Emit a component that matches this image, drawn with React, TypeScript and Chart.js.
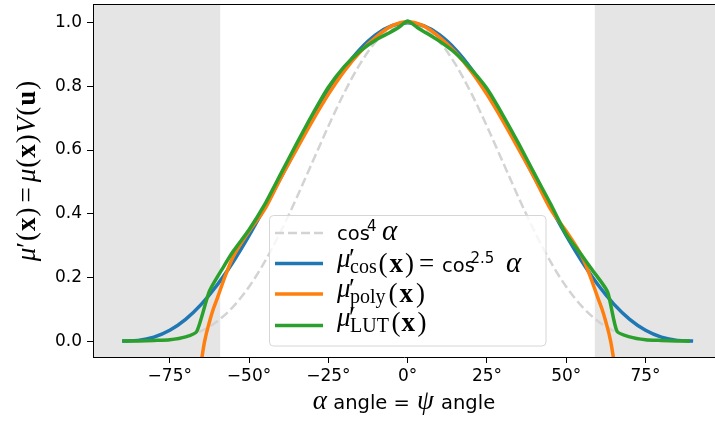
import React, { useEffect, useRef } from "react";
import { Chart, registerables } from "chart.js";

Chart.register(...registerables);

// ---------- data ----------
const xTickValues = [-75, -50, -25, 0, 25, 50, 75];
const yTickValues = [0, 0.2, 0.4, 0.6, 0.8, 1.0];
const xRange = [-99.2, 96.9];
const yRange = [-0.05, 1.0556];
const shadedSpans = [
  [-99.2, -59.1],
  [59.0, 96.9],
];

const fullAngles = [
  -90, -85, -80, -75, -70, -65, -60, -55, -50, -45, -40, -35, -30, -25, -20, -15, -10, -5, 0,
  5, 10, 15, 20, 25, 30, 35, 40, 45, 50, 55, 60, 65, 70, 75, 80, 85, 90,
];
const cos4Values = [
  0, 0.0001, 0.0009, 0.0045, 0.0137, 0.0319, 0.0625, 0.1082, 0.1707, 0.25, 0.3443, 0.4502,
  0.5625, 0.6747, 0.7797, 0.8705, 0.9406, 0.9811, 1.0, 0.9811, 0.9406, 0.8705, 0.7797, 0.6747,
  0.5625, 0.4502, 0.3443, 0.25, 0.1707, 0.1082, 0.0625, 0.0319, 0.0137, 0.0045, 0.0009, 0.0001, 0,
];
const cosPowValues = [
  0, 0.0022, 0.0126, 0.0341, 0.0684, 0.1161, 0.1768, 0.2492, 0.3313, 0.4204, 0.5135, 0.6072,
  0.698, 0.782, 0.856, 0.917, 0.9624, 0.9905, 1.0, 0.9905, 0.9624, 0.917, 0.856, 0.782, 0.698,
  0.6072, 0.5135, 0.4204, 0.3313, 0.2492, 0.1768, 0.1161, 0.0684, 0.0341, 0.0126, 0.0022, 0,
];
const polyAngles = [
  -65, -64, -62.5, -61.3, -60, -57.5, -55, -50, -45, -40, -35, -30, -25, -20, -15, -10, -5, 0, 5,
  10, 15, 20, 25, 30, 35, 40, 45, 50, 55, 57.5, 60, 61.3, 62.5, 64, 65,
];
const polyValues = [
  -0.06, 0.0, 0.06, 0.1, 0.135, 0.205, 0.265, 0.345, 0.415, 0.512, 0.603, 0.692, 0.775, 0.848,
  0.908, 0.955, 0.99, 1.003, 0.99, 0.955, 0.908, 0.848, 0.775, 0.692, 0.603, 0.512, 0.415, 0.345,
  0.265, 0.205, 0.135, 0.1, 0.06, 0.0, -0.06,
];
const lutAngles = [
  -90, -85, -80, -75, -70, -66.5, -62.5, -58, -55, -50, -45, -40, -35, -30, -25, -20, -15, -10, -6,
  -3, 0, 3, 6, 10, 15, 20, 25, 30, 35, 40, 45, 50, 55, 58, 63, 66, 70, 75, 80, 85, 89,
];
const lutValues = [
  0, 0.0005, 0.002, 0.004, 0.013, 0.03, 0.157, 0.234, 0.282, 0.35, 0.43, 0.525, 0.62, 0.712,
  0.797, 0.862, 0.911, 0.946, 0.967, 0.984, 1.005, 0.985, 0.967, 0.942, 0.905, 0.854, 0.793,
  0.71, 0.62, 0.525, 0.432, 0.335, 0.268, 0.226, 0.155, 0.031, 0.013, 0.004, 0.002, 0.0005, 0,
];

const seriesColors = ["#d3d3d3", "#1f77b4", "#ff7f0e", "#2ca02c"];

// ---------- text helpers ----------
const SANS = "'DejaVu Sans', sans-serif";
const SERIF = "'Liberation Serif', 'DejaVu Serif', serif";
const M = 27; // math font size
const T = 19.5; // text font size
const SUP = 15;
const SUB = 20;

type Run = { t: string; f: string; dy?: number; dx?: number; adv?: boolean; at?: number };

const mi = (t: string, dx = 0, dy = 0, size = M): Run => ({ t, f: `italic ${size}px ${SERIF}`, dx, dy });
const mr = (t: string, dx = 0): Run => ({ t, f: `${M}px ${SERIF}`, dx });
const mb = (t: string, dx = 0): Run => ({ t, f: `bold ${M}px ${SERIF}`, dx });
const tx = (t: string, dx = 0): Run => ({ t, f: `${T}px ${SANS}`, dx });
const sup = (t: string): Run => ({ t, f: `${SUP}px ${SANS}`, dy: -9 });
const sub = (t: string): Run => ({ t, f: `${SUB}px ${SERIF}`, dy: 1 });
const prime = (adv = true, dx = 0, dy = 0): Run => ({ t: "′", f: `${M}px ${SERIF}`, adv, dx, dy });
const at = (r: Run, x: number): Run => ({ ...r, at: x });

function runsWidth(ctx: CanvasRenderingContext2D, runs: Run[]) {
  let w = 0;
  for (const r of runs) {
    ctx.font = r.f;
    if (r.adv !== false) w += ctx.measureText(r.t).width + (r.dx || 0);
  }
  return w;
}
function drawRuns(ctx: CanvasRenderingContext2D, runs: Run[], x: number, y: number) {
  let cx = x;
  for (const r of runs) {
    ctx.font = r.f;
    if (r.at !== undefined) cx = r.at;
    ctx.fillText(r.t, cx + (r.dx || 0), y + (r.dy || 0));
    if (r.adv !== false) cx += ctx.measureText(r.t).width + (r.dx || 0);
  }
}

// legend rows: glyph runs anchored at pixel columns measured on the reference legend
const muPrime = (subText: string): Run[] => [
  at(mi("μ", 0, -5), 337),
  prime(false, -1.5, -5),
  at(sub(subText), 350),
];

const legendRows: Run[][] = [
  [at(tx("cos"), 337), at(sup("4"), 367), at(mi("α", 0, 0, 29), 382)],
  [
    ...muPrime("cos"), at(mr("("), 378.5), at(mb("x"), 389.5), at(mr(")"), 405), at(mr("="), 419),
    at(tx("cos"), 442), at(sup("2.5"), 470.5), at(mi("α", 0, 0, 29), 506),
  ],
  [...muPrime("poly"), at(mr("("), 388.5), at(mb("x"), 399.5), at(mr(")"), 416)],
  [...muPrime("LUT"), at(mr("("), 391.5), at(mb("x"), 401.5), at(mr(")"), 417.5)],
];
const xTitle: Run[] = [mi("α"), tx(" angle = "), mi("ψ", 1), tx(" angle", 1)];
const yTitle: Run[] = [
  mi("μ"), prime(), mr("(", 1), mb("x", 1), mr(")", 1), mr("=", 5), mi("μ", 5), mr("(", 1), mb("x", 1),
  mr(")", 1), mi("V", 1), mr("(", 1), mb("u", 1), mr(")", 1),
];

const decorPlugin = {
  id: "decor",
  beforeDraw(chart: any) {
    const { ctx, chartArea: a, scales } = chart;
    ctx.save();
    ctx.fillStyle = "#e5e5e5";
    for (const [x0, x1] of shadedSpans) {
      const p0 = Math.max(a.left, scales.x.getPixelForValue(x0));
      const p1 = Math.min(a.right, scales.x.getPixelForValue(x1));
      ctx.fillRect(p0, a.top, p1 - p0, a.bottom - a.top);
    }
    ctx.restore();
  },
  afterDatasetsDraw(chart: any) {
    const { ctx, chartArea: a } = chart;
    ctx.save();
    // top spine
    ctx.strokeStyle = "#000";
    ctx.lineWidth = 1;
    ctx.beginPath();
    ctx.moveTo(a.left, a.top - 0.5);
    ctx.lineTo(a.right, a.top - 0.5);
    ctx.stroke();

    // legend
    const bx = 269.5, by = 215.5, bw = 276.5, bh = 130.5, r = 4;
    ctx.beginPath();
    ctx.moveTo(bx + r, by);
    ctx.arcTo(bx + bw, by, bx + bw, by + bh, r);
    ctx.arcTo(bx + bw, by + bh, bx, by + bh, r);
    ctx.arcTo(bx, by + bh, bx, by, r);
    ctx.arcTo(bx, by, bx + bw, by, r);
    ctx.closePath();
    ctx.fillStyle = "rgba(255,255,255,0.8)";
    ctx.fill();
    ctx.strokeStyle = "#d6d6d6";
    ctx.lineWidth = 1;
    ctx.stroke();

    const handleY = [233, 263.5, 294, 325.5];
    const baseY = [240, 272, 302, 331];
    legendRows.forEach((runs, i) => {
      ctx.beginPath();
      ctx.strokeStyle = seriesColors[i];
      ctx.lineCap = "butt";
      if (i === 0) {
        ctx.lineWidth = 2.5;
        ctx.setLineDash([9, 4]);
      } else {
        ctx.lineWidth = 3.5;
        ctx.setLineDash([]);
      }
      ctx.moveTo(275, handleY[i]);
      ctx.lineTo(323, handleY[i]);
      ctx.stroke();
      ctx.setLineDash([]);
      ctx.fillStyle = "#000";
      ctx.textBaseline = "alphabetic";
      ctx.textAlign = "left";
      drawRuns(ctx, runs, 337, baseY[i]);
    });
    ctx.restore();
  },
  afterDraw(chart: any) {
    const { ctx, chartArea: a } = chart;
    ctx.save();
    ctx.fillStyle = "#000";
    ctx.textBaseline = "alphabetic";
    ctx.textAlign = "left";
    const wx = runsWidth(ctx, xTitle);
    drawRuns(ctx, xTitle, (a.left + a.right) / 2 - wx / 2, 409);
    const wy = runsWidth(ctx, yTitle);
    ctx.translate(35, 171);
    ctx.rotate(-Math.PI / 2);
    drawRuns(ctx, yTitle, -wy / 2, 0);
    ctx.restore();
  },
};

const pts = (xs: number[], ys: number[]) => xs.map((x, i) => ({ x, y: ys[i] }));

export default function App() {
  const ref = useRef<HTMLCanvasElement>(null);
  useEffect(() => {
    const tickFont = { family: "'DejaVu Sans', sans-serif", size: 17 };
    const chart = new Chart(ref.current!, {
      type: "line",
      data: {
        datasets: [
          {
            data: pts(fullAngles, cos4Values),
            borderColor: seriesColors[0],
            borderWidth: 2.5,
            borderDash: [9, 4],
            cubicInterpolationMode: "monotone",
            pointRadius: 0,
            order: 4,
          },
          {
            data: pts(fullAngles, cosPowValues),
            borderColor: seriesColors[1],
            borderWidth: 3.5,
            cubicInterpolationMode: "monotone",
            pointRadius: 0,
            order: 3,
          },
          {
            data: pts(polyAngles, polyValues),
            borderColor: seriesColors[2],
            borderWidth: 3.5,
            cubicInterpolationMode: "monotone",
            pointRadius: 0,
            order: 2,
          },
          {
            data: pts(lutAngles, lutValues),
            borderColor: seriesColors[3],
            borderWidth: 3.5,
            tension: 0.2,
            borderJoinStyle: "round",
            pointRadius: 0,
            order: 1,
          },
        ],
      },
      options: {
        responsive: false,
        devicePixelRatio: 1,
        animation: false,
        events: [],
        layout: { padding: { left: 0, right: 0, top: 5, bottom: 0 } },
        plugins: { legend: { display: false }, tooltip: { enabled: false } },
        scales: {
          x: {
            type: "linear",
            min: xRange[0],
            max: xRange[1],
            afterBuildTicks: (s: any) => {
              s.ticks = xTickValues.map((v) => ({ value: v }));
            },
            afterFit: (s: any) => {
              s.height = 66;
              s.paddingLeft = 0;
              s.paddingRight = 0;
            },
            ticks: {
              color: "#000",
              font: tickFont,
              padding: 3,
              maxRotation: 0,
              autoSkip: false,
              callback: (v: any) => (v < 0 ? "−" + Math.abs(v) : String(v)) + "°",
            },
            grid: { drawOnChartArea: false, tickLength: 6, tickColor: "#000", tickWidth: 1 },
            border: { display: true, color: "#000", width: 1 },
          },
          y: {
            type: "linear",
            min: yRange[0],
            max: yRange[1],
            afterBuildTicks: (s: any) => {
              s.ticks = yTickValues.map((v) => ({ value: v }));
            },
            afterFit: (s: any) => {
              s.width = 93;
              s.paddingTop = 0;
              s.paddingBottom = 0;
            },
            ticks: {
              color: "#000",
              font: tickFont,
              padding: 5,
              autoSkip: false,
              callback: (v: any) => Number(v).toFixed(1),
            },
            grid: { drawOnChartArea: false, tickLength: 6, tickColor: "#000", tickWidth: 1 },
            border: { display: true, color: "#000", width: 1 },
          },
        },
      } as any,
      plugins: [decorPlugin],
    } as any);
    return () => chart.destroy();
  }, []);
  return (
    <div style={{ position: "fixed", left: 0, top: 0, width: 715, height: 423, background: "#fff" }}>
      <canvas ref={ref} width={715} height={423} style={{ display: "block", width: 715, height: 423 }} />
    </div>
  );
}
